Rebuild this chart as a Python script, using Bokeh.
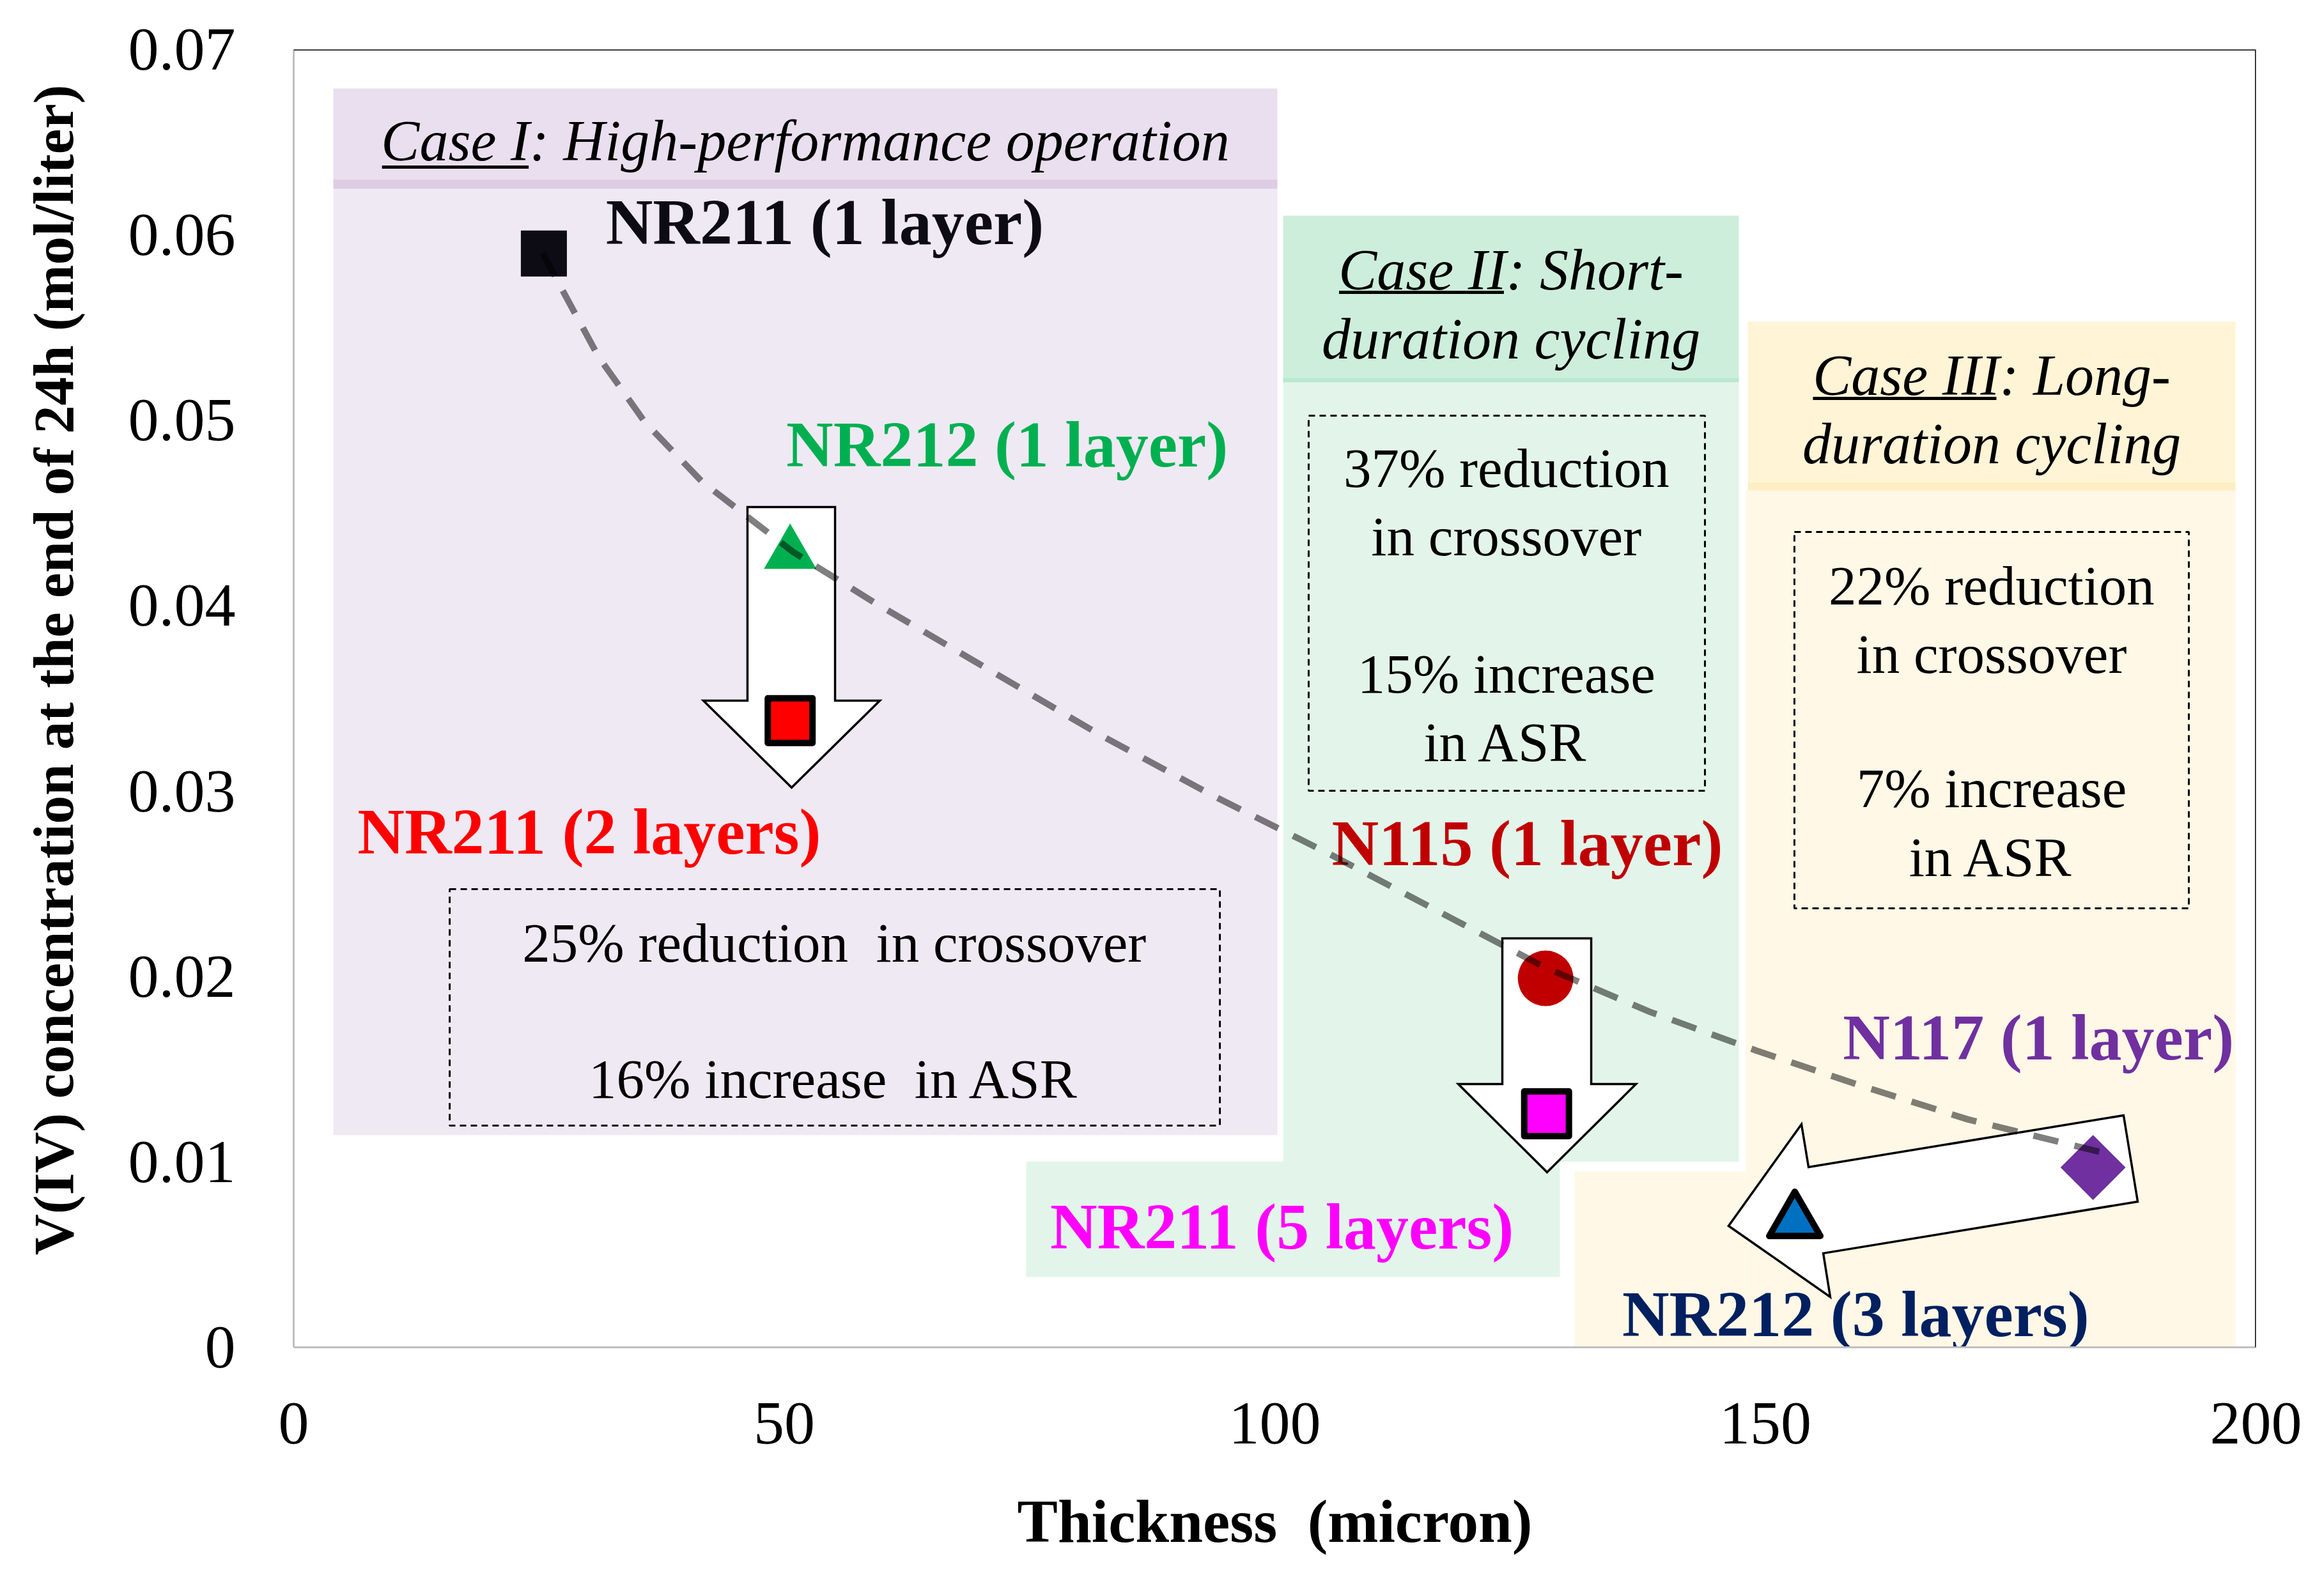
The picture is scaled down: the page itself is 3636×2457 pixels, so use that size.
from bokeh.plotting import figure
from bokeh.models import Range1d, Span
from bokeh.core.properties import value
from bokeh.embed import file_html
from bokeh.resources import INLINE

FONT = "Liberation Serif"
NB = "\u00a0"

# ---------------- data ----------------
names = ["NR211 (1 layer)", "NR212 (1 layer)", "NR211 (2 layers)", "N115 (1 layer)",
         "NR211 (5 layers)", "N117 (1 layer)", "NR212 (3 layers)"]
thickness = [25.5, 50.6, 50.6, 127.6, 127.7, 183.4, 153.0]          # micron
v_conc = [0.0590, 0.0428, 0.0338, 0.0199, 0.0126, 0.0097, 0.0068]   # mol/liter

# dashed trend curve
trend_x = [25.4, 26.8, 31.1, 35.8, 41.6, 50.9, 59.1, 70.7, 82.3, 93.9, 105.6,
           117.8, 127.5, 138.2, 149.1, 159.8, 170.6, 184.4]
trend_y = [0.0590, 0.0576, 0.0534, 0.0499, 0.0467, 0.0429, 0.0402, 0.0366, 0.0330,
           0.0297, 0.0266, 0.0232, 0.0205, 0.0181, 0.0160, 0.0141, 0.0123, 0.0105]

x_ticks = [0, 50, 100, 150, 200]
y_ticks = [0, 0.01, 0.02, 0.03, 0.04, 0.05, 0.06, 0.07]
y_tick_labels = ["0", "0.01", "0.02", "0.03", "0.04", "0.05", "0.06", "0.07"]

case_titles = [["Case I: High-performance operation"],
               ["Case II: Short-", "duration cycling"],
               ["Case III: Long-", "duration cycling"]]
case_notes = [["25% reduction" + NB + " in crossover", "16% increase" + NB + " in ASR"],
              ["37% reduction", "in crossover", "15% increase", "in ASR"],
              ["22% reduction", "in crossover", "7% increase", "in ASR"]]

# ---------------- styles ----------------
marker_kinds = ["square", "triangle", "square", "circle", "square", "square", "triangle"]
marker_sizes = [72, 82, 70, 87, 70, 72, 80]
marker_fill = ["#0D0B14", "#00B050", "#FF0000", "#C00000", "#FF00FF", "#7030A0", "#0070C0"]
marker_line = [None, None, "black", None, "black", None, "black"]
marker_angle = [0, 0, 0, 0, 0, 0.785398, 0]
label_color = ["#0D0B14", "#00B050", "#FF0000", "#C00000", "#FF00FF", "#7030A0", "#002060"]
label_pos = [(31.8, 0.0607), (50.2, 0.0487), (6.5, 0.0278), (105.8, 0.0272),
             (77.1, 0.0065), (157.9, 0.0167), (135.4, 0.0018)]

p = figure(frame_width=3070, frame_height=2031,
           x_range=Range1d(0, 200), y_range=Range1d(0, 0.07),
           output_backend="svg", toolbar_location=None,
           min_border_left=459, min_border_right=91,
           min_border_top=77, min_border_bottom=333)
p.grid.visible = False
p.outline_line_color = None
p.background_fill_color = "white"
p.border_fill_color = "white"

for ax in (p.xaxis, p.yaxis):
    ax.major_tick_line_color = None
    ax.minor_tick_line_color = None
    ax.axis_line_color = "#BFBFBF"
    ax.axis_line_width = 3
    ax.major_label_text_font = FONT
    ax.major_label_text_font_size = "96px"
    ax.major_label_text_color = "black"
    ax.axis_label_text_font = FONT
    ax.axis_label_text_font_style = "bold"
    ax.axis_label_text_color = "black"

p.xaxis.ticker = x_ticks
p.yaxis.ticker = y_ticks
p.yaxis.major_label_overrides = {t: s for t, s in zip(y_ticks, y_tick_labels)}
p.xaxis.major_label_standoff = 81
p.yaxis.major_label_standoff = 85
p.xaxis.axis_label = "Thickness" + NB + " (micron)"
p.yaxis.axis_label = NB * 4 + "V(IV) concentration at the end of 24h (mol/liter)"
p.xaxis.axis_label_text_font_size = "95px"
p.yaxis.axis_label_text_font_size = "89px"
p.xaxis.axis_label_standoff = 66
p.yaxis.axis_label_standoff = 65

# plot border (top and right)
p.add_layout(Span(location=0.07, dimension="width", line_color="black", line_width=3))
p.add_layout(Span(location=200, dimension="height", line_color="black", line_width=3))

# ---------------- shaded case regions ----------------
# (left, right, bottom, top, colour)
regions = [
    (4.04, 100.26, 0.01144, 0.06249, "#EFE9F4"),   # case I body
    (4.04, 100.26, 0.06249, 0.06300, "#DCCDE5"),   # case I stripe
    (4.04, 100.26, 0.06300, 0.06790, "#EADFEF"),   # case I header
    (100.85, 147.30, 0.01000, 0.05204, "#E3F5EB"), # case II body
    (74.66, 129.06, 0.00379, 0.01003, "#E3F5EB"),  # case II label box
    (100.85, 147.30, 0.05204, 0.05229, "#B9E7CF"), # case II stripe
    (100.85, 147.30, 0.05229, 0.06104, "#CDEEDB"), # case II header
    (148.01, 197.92, 0.0, 0.04622, "#FFF8E6"),     # case III body
    (130.55, 148.01, 0.0, 0.00948, "#FFF8E6"),     # case III label box
    (148.21, 197.92, 0.04622, 0.04667, "#FFEEC4"), # case III stripe
    (148.21, 197.92, 0.04667, 0.05532, "#FFF4D6"), # case III header
]
p.quad(left=[r[0] for r in regions], right=[r[1] for r in regions],
       bottom=[r[2] for r in regions], top=[r[3] for r in regions],
       fill_color=[r[4] for r in regions], line_color=None)

# dashed note boxes
boxes = [(15.90, 94.40, 0.01196, 0.02471), (103.45, 143.84, 0.03002, 0.05025),
         (152.96, 193.16, 0.02368, 0.04398)]
p.quad(left=[b[0] for b in boxes], right=[b[1] for b in boxes],
       bottom=[b[2] for b in boxes], top=[b[3] for b in boxes],
       fill_color=None, line_color="black", line_width=3, line_dash="10 7")

# ---------------- block arrows ----------------
arrows_x = [[46.25, 55.18, 55.18, 59.74, 50.75, 41.76, 46.25],
            [123.19, 132.25, 132.25, 136.81, 127.75, 118.70, 123.19],
            [186.51, 187.95, 155.90, 156.61, 146.25, 153.68, 154.40]]
arrows_y = [[0.04532, 0.04532, 0.03488, 0.03488, 0.03019, 0.03488, 0.03488],
            [0.02206, 0.02206, 0.01420, 0.01420, 0.00944, 0.01420, 0.01420],
            [0.01251, 0.00786, 0.00507, 0.00272, 0.00655, 0.01203, 0.00972]]
p.patches(xs=arrows_x, ys=arrows_y, fill_color="white", line_color="black",
          line_width=3.5, line_join="miter")

# ---------------- header texts ----------------
hx = [52.15, 124.08, 124.08, 173.07, 173.07]
hy = [0.06507, 0.05811, 0.05439, 0.05242, 0.04874]
htxt = [case_titles[0][0], case_titles[1][0], case_titles[1][1],
        case_titles[2][0], case_titles[2][1]]
p.text(x=hx, y=hy, text=htxt, text_font=value(FONT), text_font_style="italic",
       text_font_size=value("90px"), text_align="center", text_baseline="middle",
       text_color="black")
# underlines of "Case I/II/III"
p.segment(x0=[9.00, 106.55, 154.85], x1=[23.95, 123.35, 173.55],
          y0=[0.06366, 0.05690, 0.05118], y1=[0.06366, 0.05690, 0.05118],
          line_color="black", line_width=5)

# ---------------- note texts ----------------
nx = [55.1, 55.1, 123.6, 123.6, 123.6, 123.6, 173.06, 173.06, 173.06, 173.06]
ny = [0.02182, 0.01448, 0.04743, 0.04374, 0.03633, 0.03264,
      0.04108, 0.03740, 0.03016, 0.02644]
ntxt = case_notes[0] + case_notes[1] + case_notes[2]
p.text(x=nx, y=ny, text=ntxt, text_font=value(FONT), text_font_size=value("87px"),
       text_align="center", text_baseline="middle", text_color="black")

# ---------------- markers ----------------
for i in range(len(names)):
    kw = dict(size=marker_sizes[i], fill_color=marker_fill[i], angle=marker_angle[i])
    if marker_line[i] is None:
        kw.update(line_color=None)
    else:
        kw.update(line_color=marker_line[i], line_width=10, line_join="round")
    p.scatter(x=[thickness[i]], y=[v_conc[i]], marker=marker_kinds[i], **kw)

# ---------------- data labels ----------------
p.text(x=[q[0] for q in label_pos], y=[q[1] for q in label_pos], text=names,
       text_font=value(FONT), text_font_style="bold", text_font_size=value("102px"),
       text_color=label_color, text_align="left", text_baseline="middle")

# ---------------- trend line ----------------
p.line(x=trend_x, y=trend_y, line_color="black", line_alpha=0.5, line_width=10,
       line_dash="40 26")

open("out.html", "w").write(file_html(p, INLINE))
